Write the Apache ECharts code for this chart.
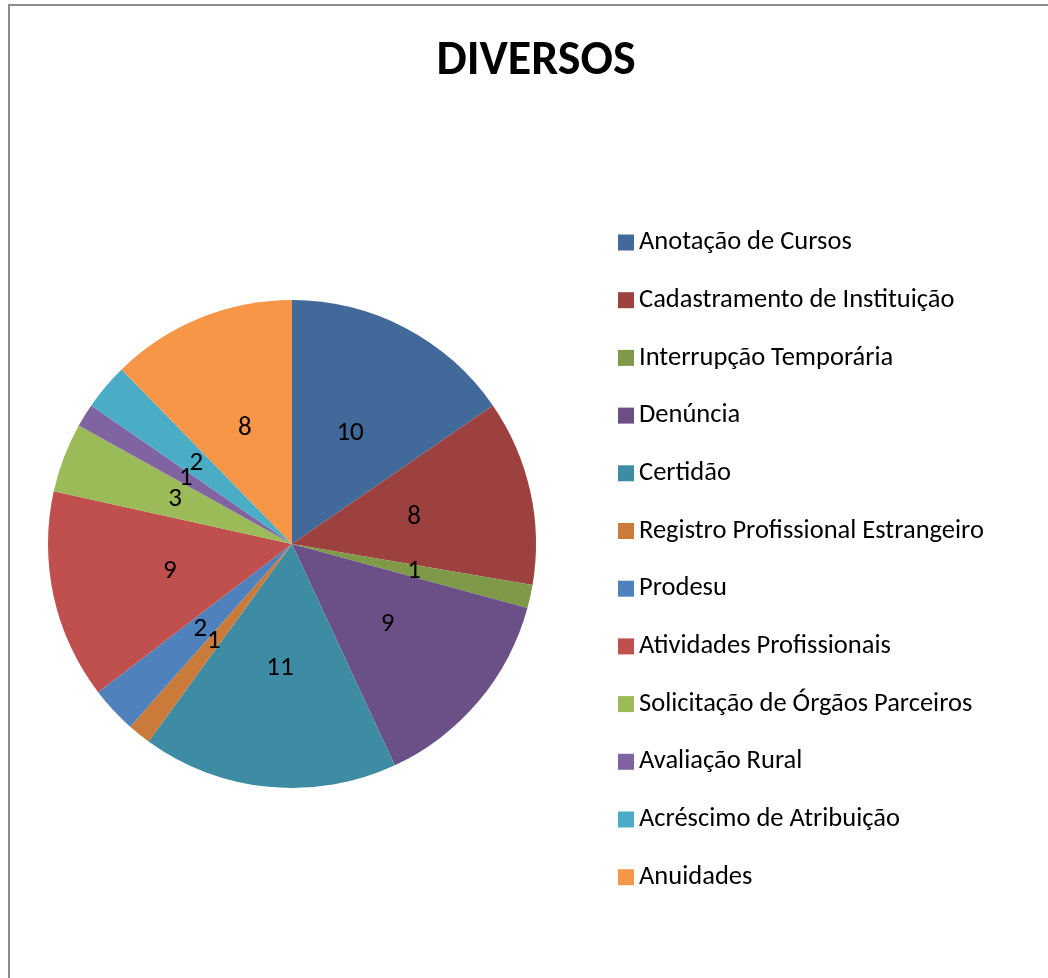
<!DOCTYPE html>
<html>
<head>
<meta charset="utf-8">
<script src="https://cdn.jsdelivr.net/npm/echarts@6/dist/echarts.min.js"></script>
<style>
  html, body { margin: 0; padding: 0; background: #fff; }
  #frame { position: absolute; left: 8px; top: 4px; width: 1060px; height: 1000px;
           border-top: 2px solid #8c8c8c; border-left: 2px solid #8c8c8c; }
  #chart { position: absolute; left: 0; top: 0; width: 1048px; height: 978px; }
</style>
</head>
<body>
<div id="frame"></div>
<div id="chart"></div>
<script>
// categorias e valores
const categories = [
  'Anotação de Cursos',
  'Cadastramento de Instituição',
  'Interrupção Temporária',
  'Denúncia',
  'Certidão',
  'Registro Profissional Estrangeiro',
  'Prodesu',
  'Atividades Profissionais',
  'Solicitação de Órgãos Parceiros',
  'Avaliação Rural',
  'Acréscimo de Atribuição',
  'Anuidades'
];
const values = [10, 8, 1, 9, 11, 1, 2, 9, 3, 1, 2, 8];
const colors = [
  '#41699a', '#9d413e', '#7e9a48', '#6a5087', '#3d8ca3', '#cb7b39',
  '#4f81bd', '#c0504d', '#9bbb59', '#8064a2', '#4bacc6', '#f79646'
];

const fontFamily = 'Calibri, Carlito, Lato, sans-serif';

const chart = echarts.init(document.getElementById('chart'));

chart.setOption({
  animation: false,
  color: colors,
  title: {
    text: 'DIVERSOS',
    left: 531,
    textAlign: 'center',
    top: 33,
    textStyle: { fontFamily: fontFamily, fontSize: 48, fontWeight: 'bold', color: '#000' }
  },
  legend: {
    orient: 'vertical',
    left: 618,
    top: 229,
    padding: 0,
    icon: 'rect',
    itemWidth: 16,
    itemHeight: 16,
    itemGap: 30.7,
    textStyle: { fontFamily: fontFamily, fontSize: 26.5, color: '#000', lineHeight: 24 },
    data: categories
  },
  series: [{
    type: 'pie',
    center: [292, 544],
    radius: 244,
    startAngle: 90,
    clockwise: true,
    silent: true,
    avoidLabelOverlap: false,
    itemStyle: { borderWidth: 0 },
    label: {
      show: true,
      position: 'inside',
      formatter: '{c}',
      fontFamily: fontFamily,
      fontSize: 27,
      color: '#000'
    },
    labelLayout: { hideOverlap: false },
    labelLine: { show: false },
    data: categories.map((name, i) => ({ name: name, value: values[i] }))
  }]
});
</script>
</body>
</html>
